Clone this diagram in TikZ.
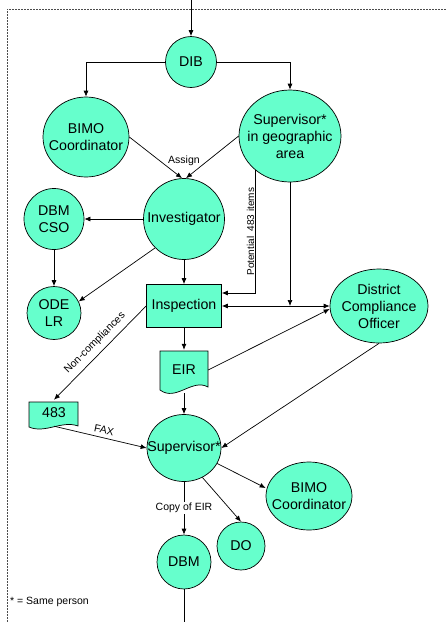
\documentclass[tikz,border=0pt]{standalone}
\usepackage{fontspec}
\setmainfont{Liberation Sans}
\usetikzlibrary{shapes.geometric,arrows.meta}
\definecolor{aqua}{RGB}{102,255,204}
\tikzset{
  ent/.style={ellipse,draw=black,line width=0.7pt,fill=aqua,inner sep=0pt},
  etxt/.style={align=center,inner sep=0pt,font=\fontsize{14.2}{17}\selectfont},
  boxnode/.style={rectangle,draw=black,line width=0.7pt,fill=aqua,inner sep=0pt,align=center,
    font=\fontsize{14.2}{17}\selectfont},
  docnode/.style={rectangle,inner sep=0pt,align=center,font=\fontsize{14.2}{17}\selectfont},
  docshape/.style={draw=black,line width=0.7pt,fill=aqua},
  arr/.style={-{Latex[length=6pt,width=5pt]},line width=0.7pt},
  arrb/.style={{Latex[length=6pt,width=5pt]}-{Latex[length=6pt,width=5pt]},line width=0.7pt},
  ln/.style={line width=0.7pt},
  lbl/.style={font=\fontsize{10.5}{12}\selectfont,inner sep=1pt},
}
\begin{document}
\begin{tikzpicture}[x=1pt,y=-1pt]
\clip (0,0) rectangle (446,622);
\fill[white] (0,0) rectangle (446,622);
% dashed frame
\draw[gray!60!black,line width=0.6pt,dash pattern=on 2pt off 1pt] (7,640) -- (7,9) -- (460,9);

% nodes
\node[ent,minimum width=51,minimum height=51,label={[etxt]center:DIB}] (dib) at (191,62) {};
\node[ent,minimum width=86,minimum height=80,label={[etxt]center:BIMO\\Coordinator}] (bimoA) at (86,137) {};
\node[ent,minimum width=102,minimum height=92,label={[etxt]center:Supervisor*\\in geographic\\area}] (supA) at (290,136) {};
\node[ent,minimum width=81,minimum height=81,label={[etxt]center:Investigator}] (inv) at (184,219) {};
\node[ent,minimum width=60,minimum height=61,label={[etxt]center:DBM\\CSO}] (dbmcso) at (54,219) {};
\node[ent,minimum width=54,minimum height=53,label={[etxt]center:ODE\\LR}] (odelr) at (54,313) {};
\node[boxnode,minimum width=75,minimum height=43] (insp) at (184,306) {Inspection};
\node[ent,minimum width=98,minimum height=74,label={[etxt]center:District\\Compliance\\Officer}] (dco) at (379,306) {};

% document shapes
\draw[docshape] (160,351) -- (208,351) -- (208,387) .. controls (192,378) and (176,402) .. (160,390) -- cycle;
\node[docnode,minimum width=48,minimum height=40] (eir) at (184,370) {EIR};
\draw[docshape] (29,402) -- (78,402) -- (78,426) .. controls (62,420) and (45,434) .. (29,427) -- cycle;
\node[docnode,minimum width=49,minimum height=26] (fda) at (54,413) {483};

\node[ent,minimum width=74,minimum height=67,label={[etxt]center:Supervisor*}] (supB) at (184,448) {};
\node[ent,minimum width=86,minimum height=68,label={[etxt]center:BIMO\\Coordinator}] (bimoB) at (309,496) {};
\node[ent,minimum width=48,minimum height=48,label={[etxt]center:DO}] (do) at (241,546) {};
\node[ent,minimum width=54,minimum height=54,label={[etxt]center:DBM}] (dbm) at (184,562) {};

\coordinate (topin) at (191,0);
\coordinate (botout) at (184,622);
\node[lbl,anchor=west] (note) at (9,602) {* = Same person};

% connectors
\draw[arr] (topin) -- (dib.north);
\draw[arr] (dib.west) -| (bimoA.north);
\draw[arr] (dib.east) -| (supA.north);
\draw[arr] (bimoA.east) -- ([xshift=-2pt]inv.north);
\draw[arr] (supA.west) -- ([xshift=2pt]inv.north);
\node[lbl] (assign) at (184,161) {Assign};
\draw[arr] (inv.west) -- (dbmcso.east);
\draw[arr] (dbmcso.south) -- (odelr.north);
\draw[arr] (inv.225) -- (odelr.25);
\draw[arr] (inv.south) -- (insp.north);
\draw[arr] (supA.225) |- ([yshift=13pt]insp.east)
  node[pos=0.25,lbl,rotate=90,anchor=south,font=\fontsize{10}{12}\selectfont] {Potential\ \ 483 items};
\draw[arrb] (insp.east) -- (dco.west);
\draw[arr] (supA.south) -- (supA.south |- insp.east);
\draw[arr] (insp.south) -- (eir.north);
\draw[arr] (eir.east) -- ([yshift=-3pt]dco.west);
\draw[arr] (insp.west) -- (fda.north);
\node[lbl,rotate=45] (noncomp) at (95,343) {Non-compliances};
\draw[arr] (fda.south) -- (supB.west);
\node[lbl,rotate=-12] (fax) at (104,430) {FAX};
\draw[arr] ([yshift=-3pt]eir.south) -- (supB.north);
\draw[arr] (dco.south) -- (supB.east);
\draw[arr] (supB.-25) -- ([yshift=8pt]bimoB.west);
\draw[arr] (supB.-58) -- (do.north);
\draw[arr] (supB.south) -- (dbm.north) node[midway,lbl,fill=white] {Copy of EIR};
\draw[ln] (dbm.south) -- (botout);
\end{tikzpicture}
\end{document}
